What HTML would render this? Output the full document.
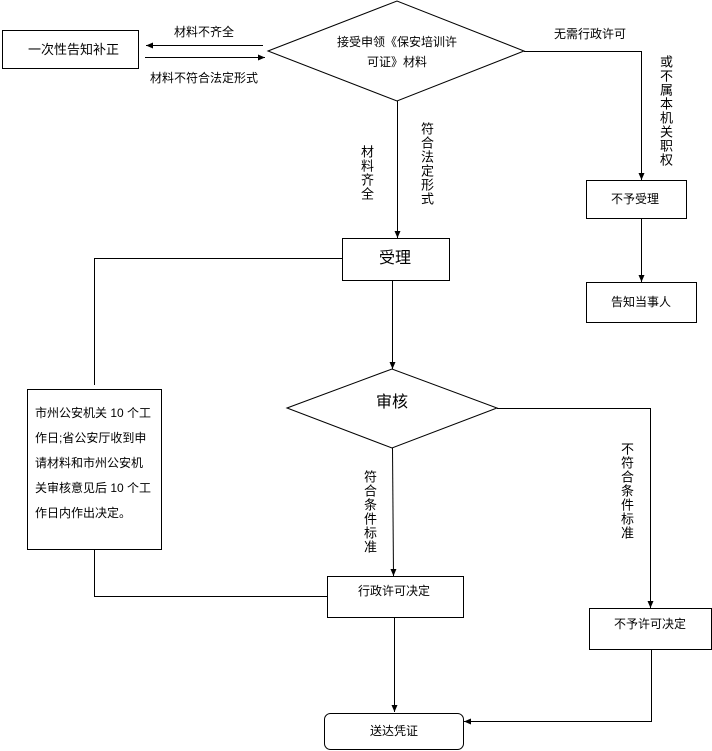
<!DOCTYPE html>
<html><head><meta charset="utf-8"><style>
body{margin:0;background:#fff;width:712px;height:751px;overflow:hidden;position:relative;font-family:"Liberation Sans","Noto Sans CJK SC",sans-serif;color:#000}
svg{position:absolute;left:0;top:0}
.t{position:absolute;font-size:12px;white-space:nowrap;line-height:1}
.v{position:absolute;writing-mode:vertical-rl;text-orientation:upright;font-size:13px;line-height:1;letter-spacing:1px}
</style></head><body>
<svg width="712" height="751" viewBox="0 0 712 751">
<defs><marker id="a" markerWidth="8" markerHeight="8" refX="7" refY="4" orient="auto" markerUnits="userSpaceOnUse"><path d="M0,1 L7,4 L0,7 Z" fill="#000"/></marker></defs>
<g fill="none" stroke="#000" stroke-width="1">
<rect x="2.5" y="30.5" width="136" height="38"/>
<line x1="263" y1="45.5" x2="146" y2="45.5" marker-end="url(#a)"/>
<line x1="145" y1="57.5" x2="265" y2="57.5" marker-end="url(#a)"/>
<polygon points="268,51 397,1 524,51 397,101"/>
<polyline points="524,51.5 641.5,51.5 641.5,180" marker-end="url(#a)"/>
<rect x="586.5" y="180.5" width="100" height="38"/>
<line x1="641.5" y1="218" x2="641.5" y2="282" marker-end="url(#a)"/>
<rect x="586.5" y="282.5" width="110" height="40"/>
<line x1="397.5" y1="101" x2="397.5" y2="238" marker-end="url(#a)"/>
<rect x="342.5" y="238.5" width="107" height="42"/>
<polyline points="342,258.5 94.5,258.5 94.5,385"/>
<rect x="27.5" y="389.5" width="134" height="160"/>
<polyline points="94.5,549 94.5,596.5 327,596.5"/>
<line x1="392.5" y1="280" x2="392.5" y2="369" marker-end="url(#a)"/>
<polygon points="287,408 392,369 497,408 392,448"/>
<line x1="392.5" y1="448" x2="393.5" y2="576" marker-end="url(#a)"/>
<rect x="327.5" y="576.5" width="136" height="41"/>
<polyline points="497,408.5 650.5,408.5 650.5,608" marker-end="url(#a)"/>
<rect x="589.5" y="608.5" width="122" height="41"/>
<line x1="394.5" y1="617" x2="394.5" y2="712" marker-end="url(#a)"/>
<rect x="324.5" y="713.5" width="139" height="36" rx="6"/>
<polyline points="651.5,649 651.5,721.5 464,721.5" marker-end="url(#a)"/>
</g>
</svg>
<div class="t" style="left:28px;top:43px;font-size:13px">一次性告知补正</div>
<div class="t" style="left:174px;top:26px">材料不齐全</div>
<div class="t" style="left:150px;top:72px">材料不符合法定形式</div>
<div class="t" style="left:337px;top:36px">接受申领《保安培训许</div>
<div class="t" style="left:367px;top:56px">可证》材料</div>
<div class="t" style="left:554px;top:28px">无需行政许可</div>
<div class="v" style="left:659px;top:55px">或不属本机关职权</div>
<div class="t" style="left:611px;top:193px">不予受理</div>
<div class="t" style="left:611px;top:296px">告知当事人</div>
<div class="v" style="left:360px;top:145px">材料齐全</div>
<div class="v" style="left:420px;top:122px">符合法定形式</div>
<div class="t" style="left:379px;top:251px;font-size:16px">受理</div>
<div class="t" style="left:376px;top:395px;font-size:16px">审核</div>
<div class="t" style="left:35px;top:401px;line-height:25px">市州公安机关 10 个工<br>作日;省公安厅收到申<br>请材料和市州公安机<br>关审核意见后 10 个工<br>作日内作出决定。</div>
<div class="v" style="left:363px;top:470px">符合条件标准</div>
<div class="v" style="left:620px;top:442px">不符合条件标准</div>
<div class="t" style="left:358px;top:585px">行政许可决定</div>
<div class="t" style="left:614px;top:618px">不予许可决定</div>
<div class="t" style="left:370px;top:725px">送达凭证</div>
</body></html>
